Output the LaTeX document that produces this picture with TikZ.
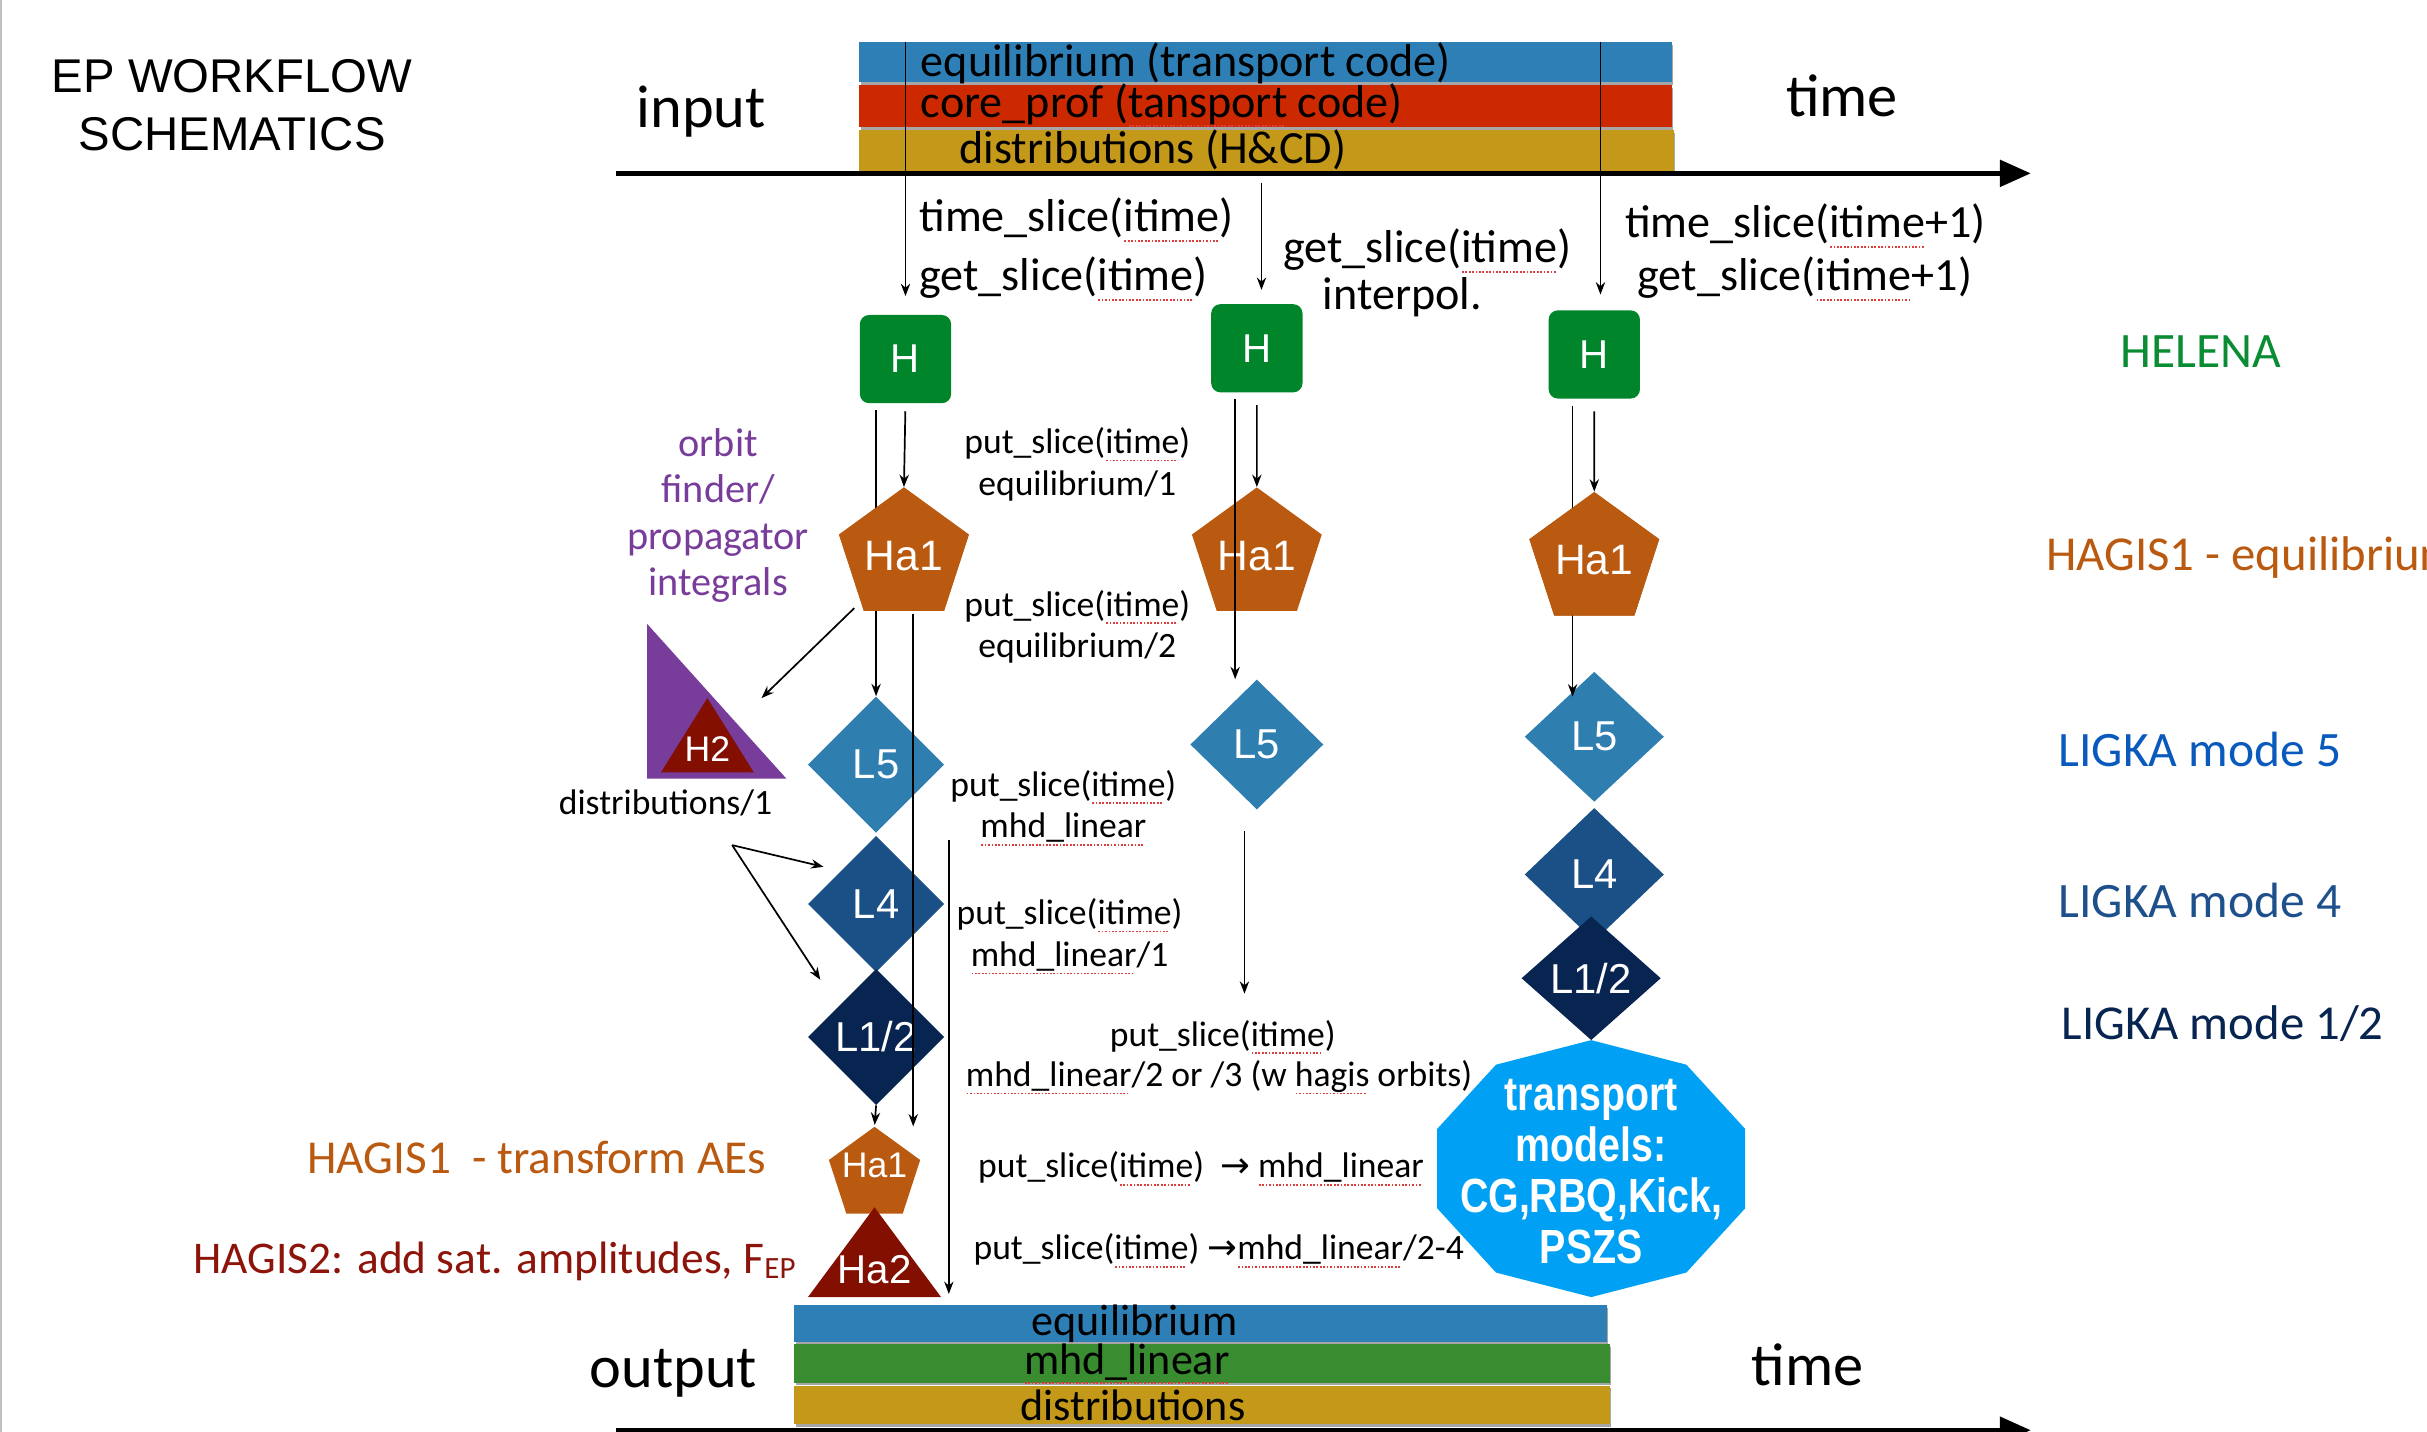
\documentclass[tikz,border=0pt]{standalone}
\usepackage{fontspec}
\setmainfont{Carlito}
\newfontfamily\hv{Liberation Sans}
\newfontfamily\dv{DejaVu Sans}
\usetikzlibrary{shapes.geometric,arrows.meta,calc}

\definecolor{barblue}{RGB}{47,127,183}
\definecolor{barred}{RGB}{204,41,0}
\definecolor{baryellow}{RGB}{196,153,26}
\definecolor{bargreen}{RGB}{58,140,48}
\definecolor{hgreen}{RGB}{0,133,43}
\definecolor{haorange}{RGB}{185,90,16}
\definecolor{lfive}{RGB}{46,126,176}
\definecolor{lfour}{RGB}{27,80,135}
\definecolor{lone}{RGB}{8,36,80}
\definecolor{orbpurple}{RGB}{120,60,155}
\definecolor{hadred}{RGB}{130,15,0}
\definecolor{tblue}{RGB}{0,160,245}
\definecolor{ligfive}{RGB}{10,90,190}
\definecolor{ligfour}{RGB}{30,80,140}
\definecolor{helgreen}{RGB}{10,140,50}
\definecolor{hagred}{RGB}{140,20,10}
\definecolor{spell}{RGB}{225,60,60}

\newcommand\fsz[2]{\fontsize{#1}{#2}\selectfont}
% red dotted spell-check underline
\newcommand\sq[1]{\leavevmode\setbox0\hbox{#1}\rlap{\color{spell}\raisebox{-0.22em}{\hbox to \wd0{\leaders\hbox to 2.2pt{\hss\rule{1.1pt}{1.1pt}\hss}\hfill}}}\box0\relax}
\newcommand\rarr{{\dv\fsz{23}{27}→}}

\begin{document}
\begin{tikzpicture}[x=1pt,y=-1pt,
  lbl/.style={inner sep=0pt, outer sep=0pt},
  txt/.style={lbl, font=\fsz{29.8}{38}},
  put/.style={lbl, font=\fsz{23}{27}, align=center},
  side/.style={lbl, font=\fsz{31.5}{36}, anchor=west},
  arr/.style={line width=1.1pt, -{Stealth[length=8pt,width=6pt]}},
  axis/.style={line width=3pt, -{Triangle[length=20pt,width=17pt]}},
  hbox/.style={rectangle, rounded corners=6pt, fill=hgreen, minimum width=59pt, minimum height=57pt, inner sep=0pt, text=white, font=\hv\fsz{26}{30}},
  hapent/.style={regular polygon, regular polygon sides=5, fill=haorange, minimum size=88pt, inner sep=0pt, text=white, font=\hv\fsz{27.5}{32}},
  dia/.style={diamond, minimum width=88pt, minimum height=88pt, inner sep=0pt, text=white, font=\hv\fsz{27}{32}},
  bar/.style={rectangle, inner sep=0pt, anchor=north west},
  shade/.style={fill=black!35},
]
\useasboundingbox (0,0) rectangle (1568,925);
\draw[black!25, line width=1pt] (0.5,0) -- (0.5,925);

% ---------- title ----------
\node[lbl, font=\hv\fsz{30.6}{37}, align=center] (title) at (150,68) {EP WORKFLOW\\SCHEMATICS};

% ---------- input data bars and time axis ----------
\fill[shade] (556,29) rectangle (1081,55);
\fill[shade] (556,57) rectangle (1081,84);
\fill[shade] (556,86) rectangle (1082,112);
\node[bar, fill=barblue,   minimum width=525pt, minimum height=26pt] (ineq)  at (555,27) {};
\node[bar, fill=barred,    minimum width=525pt, minimum height=27pt] (incp)  at (555,55) {};
\node[bar, fill=baryellow, minimum width=526pt, minimum height=26pt] (indis) at (555,84) {};
\node[txt, anchor=west] (ineqt)  at (595,41) {equilibrium (transport code)};
\node[txt, anchor=west] (incpt)  at (595,68) {core\_prof (\sq{tansport} code)};
\node[txt, anchor=west] (indist) at (620,97) {distributions (H\&CD)};

\coordinate (axa) at (398,112);
\coordinate (axb) at (1312,112);
\draw[axis] (axa) -- (axb);
\node[lbl, font=\fsz{39}{40}] (inp)  at (453,72) {input};
\node[lbl, font=\fsz{39}{40}] (tin)  at (1190,62) {time};

% ---------- slice labels ----------
\node[txt, anchor=west] (ts1) at (594,142) {time\_slice(\sq{itime})};
\node[txt, anchor=west] (gs1) at (594,180) {get\_slice(\sq{itime})};
\node[txt] (gs2) at (922,162) {get\_slice(\sq{itime})};
\node[txt] (ip2) at (906,192) {interpol.};
\node[txt, anchor=west] (ts3) at (1050,146) {time\_slice(\sq{itime}+1)};
\node[txt, anchor=west] (gs3) at (1058,180) {get\_slice(\sq{itime}+1)};

% ---------- put_slice labels ----------
\node[put] (p1) at (696,300) {put\_slice(\sq{itime})\\equilibrium/1};
\node[put] (p2) at (696,405) {put\_slice(\sq{itime})\\equilibrium/2};
\node[put] (p3) at (687,522) {put\_slice(\sq{itime})\\\sq{mhd\_linear}};
\node[put] (p4) at (691,605) {put\_slice(\sq{itime})\\\sq{mhd\_linear}/1};
\node[put] (p5) at (790,670) {put\_slice(\sq{itime})};
\node[put, anchor=west] (p5b) at (624,696) {\sq{mhd\_linear}/2 or /3 (w \sq{hagis} orbits)};
\node[put, anchor=west] (p6) at (632,755) {put\_slice(\sq{itime})\ \ \rarr\ \sq{mhd\_linear}};
\node[put, anchor=west] (p7) at (629,808) {put\_slice(\sq{itime})\ \rarr\sq{mhd\_linear}/2-4};

% ---------- side labels ----------
\node[lbl, font=\fsz{32}{36}, text=helgreen] (hel) at (1422,227) {HELENA};
\node[side, text=haorange] (hag1) at (1322,360) {HAGIS1 - equilibrium};
\node[side, font=\fsz{32}{36}, text=ligfive] (lg5) at (1330,484) {LIGKA mode 5};
\node[side, font=\fsz{32}{36}, text=ligfour] (lg4) at (1330,582) {LIGKA mode 4};
\node[side, text=lone] (lg1) at (1332,661) {LIGKA mode 1/2};

\node[lbl, font=\fsz{26}{30}, text=orbpurple, align=center] (orb) at (464,333) {orbit\\finder/\\propagator\\integrals};
\node[lbl, font=\fsz{23}{27}] (dis1) at (430,519) {distributions/1};
\node[lbl, font=\fsz{30.5}{34}, text=haorange, anchor=east] (hagt) at (495,748) {HAGIS1\ \ - transform AEs};
\node[lbl, font=\fsz{29.3}{34}, text=hagred, anchor=east] (hag2t) at (514,815) {HAGIS2: add sat. amplitudes, F{\fsz{20}{20}\raisebox{-3pt}{EP}}};

% ---------- output bars ----------
\fill[shade] (514,845) rectangle (1039,868);
\fill[shade] (514,870) rectangle (1041,895);
\fill[shade] (514,897) rectangle (1041,922);
\node[bar, fill=barblue,   minimum width=525pt, minimum height=24pt] (outeq)  at (513,843) {};
\node[bar, fill=bargreen,  minimum width=527pt, minimum height=25pt] (outmhd) at (513,868) {};
\node[bar, fill=baryellow, minimum width=527pt, minimum height=25pt] (outdis) at (513,895) {};
\node[lbl, font=\fsz{28.5}{30}] (outeqt)  at (733,855) {equilibrium};
\node[lbl, font=\fsz{28.5}{30}] (outmhdt) at (728,881) {\sq{mhd\_linear}};
\node[lbl, font=\fsz{28.5}{30}] (outdist) at (732,908) {distributions};
\node[lbl, font=\fsz{39}{40}] (outp) at (435,887) {output};
\node[lbl, font=\fsz{39}{40}] (tout) at (1168,882) {time};
\coordinate (bxa) at (398,924);
\coordinate (bxb) at (1312,924);
\draw[axis] (bxa) -- (bxb);

% ---------- column 1 (itime) ----------
\node[hbox] (h1) at (585,232) {H};
\node[hapent] (ha1a) at (584,359) {Ha1};
\node[dia, fill=lfive] (l5a) at (566,494) {L5};
\node[dia, fill=lfour] (l4a) at (566,584) {L4};
\node[dia, fill=lone]  (l1a) at (566,670) {L1/2};

% orbit finder triangle with HAGIS2 inside
\fill[orbpurple] (418,403) -- (508,503) -- (418,503) -- cycle;
\fill[hadred] (457,451) -- (487,499) -- (427,499) -- cycle;
\node[lbl, text=white, font=\hv\fsz{23}{26}] (h2) at (457,484) {H2};

% lower HAGIS nodes
\node[hapent, minimum size=62pt] (ha1b) at (565,759) {};
\node[lbl, text=white, font=\hv\fsz{23}{26}] (ha1bt) at (565,753) {Ha1};
\fill[hadred] (565,780) -- (608,838) -- (522,838) -- cycle;
\node[lbl, text=white, font=\hv\fsz{26}{30}] (ha2) at (565,820) {Ha2};

% ---------- column 2 (interpolated) ----------
\node[hbox] (h2b) at (812,225) {H};
\node[hapent] (ha1c) at (812,359) {Ha1};
\node[dia, fill=lfive, minimum width=86pt, minimum height=84pt] (l5b) at (812,481) {L5};

% ---------- column 3 (itime+1) ----------
\node[hbox] (h3) at (1030,229) {H};
\node[hapent] (ha1d) at (1030,362) {Ha1};
\node[dia, fill=lfive, minimum width=90pt, minimum height=84pt] (l5c) at (1030,476) {L5};
\node[dia, fill=lfour, minimum width=90pt, minimum height=86pt] (l4c) at (1030,565) {L4};
\node[dia, fill=lone,  minimum width=90pt, minimum height=80pt] (l1c) at (1028,632) {L1/2};

% ---------- connectors ----------
% input slices into HELENA
\draw[arr, shorten >=12pt] (h1.north |- ineq.north) -- (h1.north);
\draw[arr, shorten >=9pt] ([xshift=3pt]h2b.north |- 0,118) -- ([xshift=3pt]h2b.north);
\draw[arr, shorten >=10pt] ([xshift=4pt]h3.north |- ineq.north) -- ([xshift=4pt]h3.north);

% column 1: HELENA -> HAGIS1 / LIGKA 5 (behind the pentagon)
\draw[arr, shorten <=5pt] (h1.south) -- (ha1a.north);
\coordinate (c1s) at (566,265);
\draw[arr] (c1s) -- (l5a.north);
\node[hapent] at (ha1a) {Ha1};
\coordinate (c2s) at (590,397);
\draw[arr] (c2s) -- (c2s |- ha1b.north);
\coordinate (c3s) at (613,543);
\coordinate (c3e) at (613,836);
\draw[arr] (c3s) -- (c3e);
\coordinate (orbend) at (492,451);
\draw[arr] ($(ha1a.corner 3)+(-6,-2)$) -- (orbend);
\coordinate (dsrc) at (473,546);
\coordinate (d4end) at (532,560);
\coordinate (d1end) at (530,633);
\draw[arr] (dsrc) -- (d4end);
\draw[arr] (dsrc) -- (d1end);
\draw[arr, shorten >=1pt] (l1a.south) -- (ha1b.north);

% column 2
\draw[arr, shorten <=8pt] (h2b.south) -- (ha1c.north);
\coordinate (c4s) at (798,258);
\draw[arr] (c4s) -- (c4s |- l5b.north);
\coordinate (c5s) at (804,537);
\coordinate (c5e) at (804,642);
\draw[arr] (c5s) -- (c5e);

% column 3: HELENA -> LIGKA 5 passes behind the pentagon
\draw[arr, shorten <=8pt] (h3.south) -- (ha1d.north);
\coordinate (c6s) at (1016,262);
\coordinate (c6e) at (1016,450);
\draw[arr] (c6s) -- (c6e);
\node[hapent] at (ha1d) {Ha1};

% ---------- transport models ----------
\fill[tblue] plot[samples at={0,1,...,9}, variable=\k] ({1028+104.6*cos(90+36*\k)}, {755-83*sin(90+36*\k)}) -- cycle;
\node[lbl, text=white, font=\hv\bfseries\fsz{31}{33}, align=center, xscale=0.82, transform shape] (tm) at (1028,757) {transport\\models:\\CG,RBQ,Kick,\\PSZS};
\end{tikzpicture}
\end{document}
